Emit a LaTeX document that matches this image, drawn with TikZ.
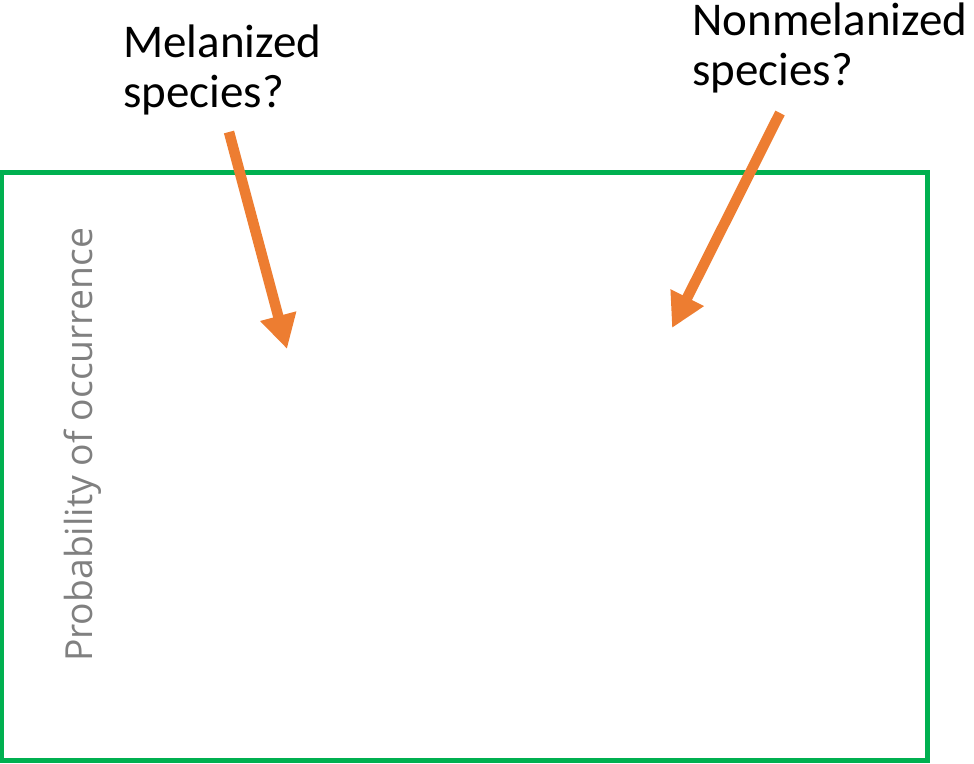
\documentclass[tikz,border=0pt]{standalone}
\usepackage{fontspec}
\setmainfont{Carlito}
\newfontfamily\axisfont{Open Sans}
\usetikzlibrary{arrows.meta}
\definecolor{frameGreen}{HTML}{00B050}
\definecolor{arrowOrange}{HTML}{ED7D31}
\definecolor{axisGray}{HTML}{808080}
\begin{document}
\begin{tikzpicture}[x=1pt,y=-1pt,
  question/.style={anchor=base west, align=left, inner sep=0pt,
    font=\fontsize{47}{50}\selectfont},
  pointer/.style={draw=arrowOrange, line width=10.5pt,
    -{Triangle[width=35pt,length=34pt]}, arrowOrange},
  axislabel/.style={rotate=90, anchor=base, inner sep=0pt, text=axisGray,
    font=\axisfont\fontsize{37.3}{42}\selectfont}]
  \useasboundingbox (0,0) rectangle (974,763);
  % plot frame
  \node[draw=frameGreen, line width=4.5pt, minimum width=926pt, minimum height=588pt,
    inner sep=0pt, outer sep=0pt, anchor=north west] (frame) at (1.5,172.5) {};
  % axis title
  \node[axislabel] (ylab) at (92,445) {Probability of occurrence};
  % questions (anchored at the baseline of their last line)
  \node[question] (mel) at (123,107) {Melanized\\species?};
  \node[question] (nonmel) at (692,85) {Nonmelanized\\species?};
  % arrows pointing into the plot
  \coordinate (melTail) at (229,132);
  \coordinate (melTip) at (287,349);
  \coordinate (nonTail) at (780,113);
  \coordinate (nonTip) at (672,328);
  \draw[pointer] (melTail) -- (melTip);
  \draw[pointer] (nonTail) -- (nonTip);
\end{tikzpicture}
\end{document}
